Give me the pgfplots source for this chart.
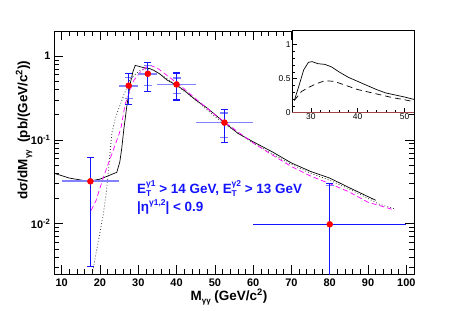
\documentclass[border=0pt]{standalone}
\usepackage{fontspec}
\setmainfont{Liberation Sans}
\usepackage{pgfplots}
\pgfplotsset{compat=1.18}
\definecolor{lblue}{RGB}{130,130,255}
\definecolor{dblue}{RGB}{20,20,255}
\definecolor{mag}{RGB}{255,0,255}
\definecolor{brn}{RGB}{160,70,70}
\newcommand{\ET}[1]{E\rlap{\raisebox{-0.45ex}{\fontsize{8.5}{9}\selectfont T}}\raisebox{0.95ex}{\fontsize{8.5}{9}\selectfont #1}}
\begin{document}
\begin{tikzpicture}
\path[use as bounding box] (0,0) rectangle (459bp,311bp);
\begin{axis}[
  at={(54bp,37bp)}, anchor=south west,
  scale only axis, width=360bp, height=243bp,
  ymode=log, xmin=8, xmax=102, ymin=0.0025, ymax=2,
  xtick={10,20,...,100}, minor x tick num=4,
  ytick={0.01,0.1,1},
  yticklabels={\bfseries 10\textsuperscript{-2},\bfseries 10\textsuperscript{-1},\bfseries 1},
  minor ytick={0.003,0.004,0.005,0.006,0.007,0.008,0.009,0.02,0.03,0.04,0.05,0.06,0.07,0.08,0.09,0.2,0.3,0.4,0.5,0.6,0.7,0.8,0.9,2},
  tick align=inside,
  major tick length=9bp, minor tick length=5bp,
  axis line style={line width=0.8pt},
  tick style={line width=0.6pt, black},
  /pgf/number format/assume math mode=true,
  ticklabel style={font=\bfseries\fontsize{11}{12}\selectfont},
  xticklabel style={yshift=-1bp},
  clip=true,
]
% curves
\addplot[black, line width=0.7pt] coordinates {
(8,0.040) (12,0.035) (17,0.032) (20,0.034) (22,0.037) (24.4,0.041) (25.2,0.055) (25.7,0.08) (26.2,0.13) (27,0.25) (27.9,0.47) (28.6,0.65) (29.2,0.775) (30,0.76) (31.4,0.73) (33,0.71) (34,0.68) (35.5,0.62) (37.5,0.52) (40,0.45) (42,0.39) (45,0.30) (48,0.24) (52.6,0.16) (56,0.12) (60,0.095) (65,0.072) (70,0.053) (75,0.042) (80,0.035) (85,0.027) (90,0.021) (92,0.019)};
\addplot[black!80, line width=0.8pt, dash pattern=on 0.8pt off 2.2pt] coordinates {
(18.0,0.0025) (19,0.0045) (20.1,0.0083) (21,0.014) (21.8,0.027) (22.5,0.06) (23.1,0.12) (24,0.18) (24.9,0.236) (26.2,0.34) (27.9,0.54) (30.5,0.68) (32.3,0.71) (34,0.68) (36,0.60) (40,0.45) (45,0.30) (50,0.19) (55,0.13) (60,0.092) (65,0.068) (70,0.051) (75,0.040) (80,0.033) (85,0.026) (90,0.020) (93,0.017) (97,0.015)};
\addplot[mag, line width=0.7pt, dash pattern=on 5pt off 3pt] coordinates {
(17.7,0.0144) (19,0.019) (21,0.037) (23,0.066) (24.9,0.114) (25.5,0.14) (26.6,0.27) (28.8,0.51) (30.5,0.645) (32,0.74) (33.2,0.775) (35,0.72) (37.5,0.59) (41.4,0.43) (45,0.31) (50,0.20) (55,0.135) (60,0.092) (65,0.066) (70,0.048) (75,0.037) (80,0.030) (85,0.024) (90,0.018) (97,0.0145)};
% horizontal bars
\addplot[lblue, line width=1.8pt, only marks, mark=none,
  error bars/.cd, x dir=both, x explicit, error mark=none,
  error bar style={lblue, line width=1.8pt}] coordinates {
(17.5,0.032) +- (7.5,0)
(27.5,0.445) +- (2.5,0)
(32.5,0.617) +- (2.5,0)
(40,0.46) +- (5,0)
(52.5,0.161) +- (7.5,0)};
\addplot[dblue, only marks, mark=none,
  error bars/.cd, x dir=both, x explicit, error mark=none,
  error bar style={dblue, line width=0.9pt}] coordinates {
(80,0.0098) +- (20,0)};
% inner (light) vertical bars
\addplot[lblue, only marks, mark=none,
  error bars/.cd, y dir=both, y explicit,
  error bar style={lblue, line width=1.2pt},
  error mark options={lblue, line width=1.2pt, mark size=4bp, rotate=90}] coordinates {
(27.5,0.445) -= (0,0.135) += (0,0.115)
(32.5,0.617) -= (0,0.167) += (0,0.153)
(40,0.46) -= (0,0.10) += (0,0.09)
(52.5,0.161) -= (0,0.053) += (0,0.049)
(80,0.0098) += (0,0.019)};
% total vertical bars
\addplot[dblue, only marks, mark=none,
  error bars/.cd, y dir=both, y explicit,
  error bar style={dblue, line width=1.2pt},
  error mark options={dblue, line width=1.2pt, mark size=3.5bp, rotate=90}] coordinates {
(17.5,0.032) -= (0,0.0289) += (0,0.030)
(27.5,0.445) -= (0,0.179) += (0,0.175)
(32.5,0.617) -= (0,0.237) += (0,0.223)
(40,0.46) -= (0,0.16) += (0,0.17)
(52.5,0.161) -= (0,0.068) += (0,0.069)
(80,0.0098) -= (0,0.0097) += (0,0.0202)};
% points
\addplot[only marks, mark=*, mark size=3bp, red, mark options={fill=red, draw=red}] coordinates {
(17.5,0.032) (27.5,0.445) (32.5,0.617) (40,0.46) (52.5,0.161) (80,0.0098)};
\end{axis}
% inset
\begin{axis}[
  at={(292bp,198.3bp)}, anchor=south west,
  scale only axis, width=122bp, height=81.7bp,
  xmin=26, xmax=52, ymin=0, ymax=1.2,
  xtick={30,40,50}, ytick={0,0.5,1},
  minor x tick num=4, minor y tick num=4,
  xtick pos=left, ytick pos=left,
  tick align=inside,
  major tick length=5bp, minor tick length=2.5bp,
  axis background/.style={fill=white},
  axis line style={line width=1pt},
  tick style={line width=0.5pt, black},
  /pgf/number format/assume math mode=true,
  ticklabel style={font=\fontsize{8.5}{9}\selectfont},
  yticklabel style={xshift=2bp},
  xticklabel style={yshift=3bp},
]
\addplot[black, line width=0.7pt] coordinates {
(26.5,0.18) (27.5,0.40) (28.5,0.63) (29.5,0.74) (30.3,0.75) (31.5,0.72) (33,0.71) (34.5,0.67) (36,0.60) (38,0.52) (40,0.46) (42,0.40) (44,0.34) (46,0.29) (48,0.26) (50,0.23) (52,0.195)};
\addplot[black, line width=0.7pt, dash pattern=on 6pt off 4pt] coordinates {
(26.5,0.18) (28,0.31) (29.5,0.37) (31,0.42) (33,0.47) (35,0.46) (37.5,0.40) (40,0.34) (42.5,0.30) (45,0.26) (47.5,0.22) (50,0.19) (52,0.16)};
\addplot[brn, line width=1pt] coordinates {(26,0) (52,0)};
\end{axis}
% labels
\node[rotate=90, font=\bfseries\fontsize{13.5}{15}\selectfont] at (24bp,181bp)
  {dσ/dM\raisebox{-0.45ex}{\fontsize{8}{9}\selectfont γγ}\ \ (pb/(GeV/c\textsuperscript{2}))};
\node[font=\bfseries\fontsize{13.5}{15}\selectfont] at (229bp,14bp)
  {M\raisebox{-0.45ex}{\fontsize{8}{9}\selectfont γγ} (GeV/c\textsuperscript{2})};
\node[anchor=west, inner sep=0pt, text=dblue, font=\bfseries\fontsize{13.5}{14}\selectfont] at (137bp,122bp)
  {\ET{γ1} > 14 GeV, \ET{γ2} > 13 GeV};
\node[anchor=west, inner sep=0pt, text=dblue, font=\bfseries\fontsize{13.5}{14}\selectfont] at (137bp,104bp)
  {|η\raisebox{0.8ex}{\fontsize{8.5}{9}\selectfont γ1,2}| < 0.9};
\end{tikzpicture}
\end{document}
